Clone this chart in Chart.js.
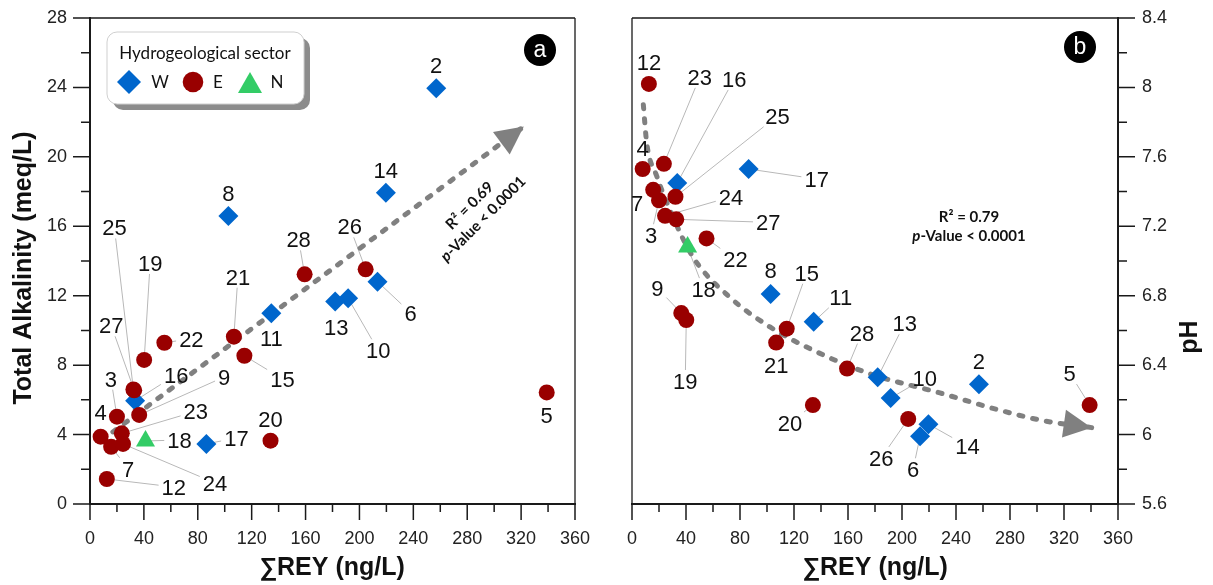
<!DOCTYPE html>
<html>
<head>
<meta charset="utf-8">
<script src="https://cdn.jsdelivr.net/npm/chart.js@4.4.1/dist/chart.umd.min.js"></script>
<style>
  html, body { margin: 0; padding: 0; background: #fff; }
  #wrap { position: relative; width: 1213px; height: 585px; }
  canvas { position: absolute; left: 0; top: 0; }
</style>
</head>
<body>
<div id="wrap">
  <canvas id="alkChart" width="1213" height="585"></canvas>
  <canvas id="phChart" width="1213" height="585"></canvas>
</div>
<script>
// samples (same order in every array)
const sampleIds = [2, 3, 4, 5, 6, 7, 8, 9, 10, 11, 12, 13, 14, 15, 16, 17, 18, 19, 20, 21, 22, 23, 24, 25, 26, 27, 28];
const sectors   = ["W","E","E","E","W","E","W","E","W","W","E","W","W","E","W","W","N","E","E","E","E","E","E","E","E","E","E"];
const reyValues = [257, 20, 7.9, 339, 213.4, 15.7, 102.7, 36.5, 191.6, 134.6, 12.5, 182, 219.6, 114.6, 33.5, 86.4, 41.2, 40.2, 134, 106.8, 55.2, 23.6, 24.5, 32.2, 204.6, 32.8, 159.3];
const alkValues = [23.95, 5.03, 3.88, 6.43, 12.81, 3.3, 16.59, 5.13, 11.85, 10.99, 1.44, 11.66, 17.93, 8.54, 5.95, 3.46, 3.63, 8.3, 3.65, 9.64, 9.29, 4.07, 3.46, 6.6, 13.52, 6.55, 13.23];
const phValues  = [6.29, 7.35, 7.53, 6.17, 5.99, 7.41, 6.81, 6.70, 6.21, 6.65, 8.02, 6.33, 6.06, 6.61, 7.45, 7.53, 7.08, 6.66, 6.17, 6.53, 7.13, 7.56, 7.26, 7.37, 6.09, 7.24, 6.38];

// trend lines
const alkTrendX = [17, 322];
const alkTrendY = [4.15, 21.75];
const phTrendX = [8.4, 10.9, 18.3, 29.4, 45.4, 72.6, 102.2, 133.1, 176.3, 228.1, 272.6, 304.7, 340.5];
const phTrendY = [7.90, 7.68, 7.49, 7.27, 7.02, 6.79, 6.62, 6.49, 6.35, 6.24, 6.14, 6.08, 6.04];

// tick labels
const reyTickLabels = ["0", "40", "80", "120", "160", "200", "240", "280", "320", "360"];
const alkTickLabels = ["0", "4", "8", "12", "16", "20", "24", "28"];
const phTickLabels  = ["5.6", "6", "6.4", "6.8", "7.2", "7.6", "8", "8.4"];

// label offsets in px from the marker (same order as sampleIds)
const alkLabelOffsets = [[0,-23],[-6,-38],[0,-25],[0,23],[33,31],[17,22],[0,-23],[85,-38],[30,52],[0,25],[67,8],[1,25],[0,-23],[38,23],[41,-26],[30,-6],[34,-1],[6,-97],[0,-22],[4,-60],[27,-4],[74,-22],[92,39],[-19,-162],[-16,-43],[-23,-65],[-6,-35]];
const phLabelOffsets  = [[0,-23],[-8,35],[0,-21],[-20,-32],[-7,33],[-16,13],[0,-24],[-24,-25],[34,-20],[27,-25],[0,-22],[27,-54],[39,22],[20,-56],[57,-104],[68,10],[16,42],[-1,61],[-23,18],[0,23],[29,21],[36,-87],[66,-19],[102,-81],[-27,39],[92,3],[15,-36]];

const COLORS = { W: "#0066cc", E: "#990000", N: "#33cc66" };
const STYLES = { W: ["rectRot", 10], E: ["circle", 8], N: ["triangle", 11] };
const TREND = "#808080";
const INK = "#1a1a1a";
const SANS = "'Liberation Sans', Arial, sans-serif";

Chart.defaults.font.family = SANS;
Chart.defaults.color = "#222";

function sectorDataset(sec, yvals) {
  const pts = [];
  sampleIds.forEach((id, i) => {
    if (sectors[i] === sec) pts.push({ x: reyValues[i], y: yvals[i] });
  });
  return {
    label: sec,
    data: pts,
    pointStyle: STYLES[sec][0],
    pointRadius: STYLES[sec][1],
    pointHoverRadius: STYLES[sec][1],
    backgroundColor: COLORS[sec],
    borderWidth: 0,
    showLine: false,
  };
}

function trendDataset(xs, ys, tension) {
  return {
    type: "line",
    data: xs.map((x, i) => ({ x, y: ys[i] })),
    borderColor: TREND,
    borderWidth: 5,
    borderDash: [4, 10],
    borderCapStyle: "round",
    pointRadius: 0,
    fill: false,
    tension,
    cubicInterpolationMode: tension ? "monotone" : "default",
  };
}

function frame(yside) {
  return {
    id: "frame" + yside,
    afterDraw(chart) {
      const { ctx, chartArea: a } = chart;
      const xs = chart.scales.x, ys = chart.scales.y;
      ctx.save();
      ctx.strokeStyle = INK;
      ctx.lineWidth = 1.3;
      ctx.beginPath();
      ctx.moveTo(a.left, a.top); ctx.lineTo(a.right, a.top);
      const far = yside === "left" ? a.right : a.left;
      ctx.moveTo(far, a.top); ctx.lineTo(far, a.bottom);
      ctx.stroke();

      ctx.lineWidth = 2;
      ctx.beginPath();
      const ax = yside === "left" ? a.left : a.right;
      ctx.moveTo(ax, a.top - 1); ctx.lineTo(ax, a.bottom + 1);
      ctx.moveTo(a.left - 1, a.bottom); ctx.lineTo(a.right + 1, a.bottom);
      ctx.stroke();

      ctx.lineWidth = 1.5;
      ctx.beginPath();
      const xv = xs.ticks.map(t => t.value);
      xv.forEach((v, i) => {
        const p = xs.getPixelForValue(v);
        ctx.moveTo(p, a.bottom); ctx.lineTo(p, a.bottom + 16);
        if (i < xv.length - 1) {
          const m = xs.getPixelForValue((v + xv[i + 1]) / 2);
          ctx.moveTo(m, a.bottom); ctx.lineTo(m, a.bottom + 8);
        }
      });
      const dir = yside === "left" ? -1 : 1;
      const yv = ys.ticks.map(t => t.value);
      yv.forEach((v, i) => {
        const p = ys.getPixelForValue(v);
        ctx.moveTo(ax, p); ctx.lineTo(ax + dir * 17, p);
        if (i < yv.length - 1) {
          const m = ys.getPixelForValue((v + yv[i + 1]) / 2);
          ctx.moveTo(ax, m); ctx.lineTo(ax + dir * 9, m);
        }
      });
      ctx.stroke();
      ctx.restore();
    },
  };
}

function pointLabels(yvals, offsets) {
  const font = "22px " + SANS;
  const pos = (chart, i) => [
    chart.scales.x.getPixelForValue(reyValues[i]),
    chart.scales.y.getPixelForValue(yvals[i]),
  ];
  return {
    id: "pointLabels",
    beforeDatasetsDraw(chart) {
      const ctx = chart.ctx;
      ctx.save();
      ctx.font = font;
      ctx.strokeStyle = "#b8b8b8";
      ctx.lineWidth = 1;
      sampleIds.forEach((id, i) => {
        const [dx, dy] = offsets[i];
        if (Math.hypot(dx, dy) < 26) return;
        const [px, py] = pos(chart, i);
        const hw = ctx.measureText(String(id)).width / 2 + 3;
        const hh = 11;
        const tx = dx ? hw / Math.abs(dx) : Infinity;
        const ty = dy ? hh / Math.abs(dy) : Infinity;
        const t = 1 - Math.min(tx, ty);
        ctx.beginPath();
        ctx.moveTo(px, py);
        ctx.lineTo(px + dx * t, py + dy * t);
        ctx.stroke();
      });
      ctx.restore();
    },
    afterDatasetsDraw(chart) {
      const ctx = chart.ctx;
      ctx.save();
      ctx.font = font;
      ctx.fillStyle = "#111";
      ctx.textAlign = "center";
      ctx.textBaseline = "alphabetic";
      sampleIds.forEach((id, i) => {
        const [px, py] = pos(chart, i);
        const [dx, dy] = offsets[i];
        ctx.fillText(String(id), px + dx, py + dy + 7.9);
      });
      ctx.restore();
    },
  };
}

function arrowHead(datasetIndex) {
  return {
    id: "arrowHead",
    afterDatasetsDraw(chart) {
      const pts = chart.getDatasetMeta(datasetIndex).data;
      const tip = pts[pts.length - 1], prev = pts[pts.length - 2];
      let ux = tip.x - prev.x, uy = tip.y - prev.y;
      const len = Math.hypot(ux, uy);
      ux /= len; uy /= len;
      const bx = tip.x - ux * 28, by = tip.y - uy * 28;
      const ctx = chart.ctx;
      ctx.save();
      ctx.fillStyle = TREND;
      ctx.beginPath();
      ctx.moveTo(tip.x, tip.y);
      ctx.lineTo(bx - uy * 14, by + ux * 14);
      ctx.lineTo(bx + uy * 14, by - ux * 14);
      ctx.closePath();
      ctx.fill();
      ctx.restore();
    },
  };
}

function badge(ctx, x, y, letter) {
  ctx.save();
  ctx.fillStyle = "#000";
  ctx.beginPath();
  ctx.arc(x, y, 16, 0, Math.PI * 2);
  ctx.fill();
  ctx.fillStyle = "#fff";
  ctx.font = "23px " + SANS;
  ctx.textAlign = "center";
  ctx.textBaseline = "middle";
  ctx.fillText(letter, x, y + 1);
  ctx.restore();
}

function statText(ctx, x, y, angle, r2) {
  ctx.save();
  ctx.translate(x, y);
  ctx.rotate(angle);
  ctx.fillStyle = "#111";
  ctx.textBaseline = "middle";
  ctx.font = "bold 15px Lato, sans-serif";
  ctx.textAlign = "center";
  ctx.fillText("R\u00b2 = " + r2, 0, -9);
  const rest = "-Value < 0.0001";
  ctx.font = "italic bold 15px Lato, sans-serif";
  const wp = ctx.measureText("p").width;
  ctx.font = "bold 15px Lato, sans-serif";
  const wr = ctx.measureText(rest).width;
  ctx.textAlign = "left";
  const x0 = -(wp + wr) / 2;
  ctx.font = "italic bold 15px Lato, sans-serif";
  ctx.fillText("p", x0, 10);
  ctx.font = "bold 15px Lato, sans-serif";
  ctx.fillText(rest, x0 + wp, 10);
  ctx.restore();
}

function title(ctx, text, x, y, rot) {
  ctx.save();
  ctx.translate(x, y);
  ctx.rotate(rot);
  ctx.fillStyle = "#111";
  ctx.font = "bold 25px " + SANS;
  ctx.textAlign = "center";
  ctx.textBaseline = "middle";
  ctx.fillText(text, 0, 0);
  ctx.restore();
}

function legendBox(ctx) {
  ctx.save();
  const x = 107, y = 32, w = 197, h = 72, r = 10;
  ctx.fillStyle = "#8c8c8c";
  ctx.beginPath();
  ctx.roundRect(x + 6, y + 6, w, h, r);
  ctx.fill();
  ctx.fillStyle = "#fff";
  ctx.strokeStyle = "#cfcfcf";
  ctx.lineWidth = 1;
  ctx.beginPath();
  ctx.roundRect(x, y, w, h, r);
  ctx.fill();
  ctx.stroke();
  ctx.fillStyle = "#111";
  ctx.font = "17px Lato, sans-serif";
  ctx.textAlign = "center";
  ctx.textBaseline = "middle";
  ctx.fillText("Hydrogeological sector", 205, 54);
  // W
  ctx.fillStyle = COLORS.W;
  ctx.beginPath();
  ctx.moveTo(129, 70); ctx.lineTo(141, 82); ctx.lineTo(129, 94); ctx.lineTo(117, 82);
  ctx.closePath(); ctx.fill();
  // E
  ctx.fillStyle = COLORS.E;
  ctx.beginPath(); ctx.arc(193, 82, 10.3, 0, Math.PI * 2); ctx.fill();
  // N
  ctx.fillStyle = COLORS.N;
  ctx.beginPath();
  ctx.moveTo(250, 72); ctx.lineTo(262, 93); ctx.lineTo(238, 93);
  ctx.closePath(); ctx.fill();
  ctx.fillStyle = "#111";
  ctx.fillText("W", 160, 83);
  ctx.fillText("E", 218, 83);
  ctx.fillText("N", 277, 83);
  ctx.restore();
}

const alkDecor = {
  id: "alkDecor",
  afterDraw(chart) {
    const ctx = chart.ctx;
    legendBox(ctx);
    badge(ctx, 540, 50, "a");
    statText(ctx, 476, 212, -Math.PI / 4, "0.69");
    title(ctx, "\u2211REY (ng/L)", 332, 568, 0);
    title(ctx, "Total Alkalinity (meq/L)", 24, 268, -Math.PI / 2);
  },
};

const phDecor = {
  id: "phDecor",
  afterDraw(chart) {
    const ctx = chart.ctx;
    badge(ctx, 1080, 47, "b");
    statText(ctx, 969, 226, 0, "0.79");
    title(ctx, "\u2211REY (ng/L)", 875, 568, 0);
    title(ctx, "pH", 1190, 337, -Math.PI / 2);
  },
};

function xScale() {
  return {
    type: "linear",
    position: "bottom",
    min: 0, max: 360,
    grid: { display: false, drawTicks: false },
    border: { display: false },
    ticks: {
      stepSize: 40, autoSkip: false, maxRotation: 0, padding: 24,
      font: { size: 18 }, color: "#222",
      callback: (v, i) => reyTickLabels[i],
    },
    afterFit: s => { s.height = 81; s.paddingLeft = 0; s.paddingRight = 0; },
  };
}

function yScale(pos, min, max, step, pad, labels, width) {
  return {
    type: "linear",
    position: pos,
    min, max,
    grid: { display: false, drawTicks: false },
    border: { display: false },
    ticks: {
      stepSize: step, autoSkip: false, padding: pad,
      font: { size: 18 }, color: "#222",
      callback: (v, i) => labels[i],
    },
    afterFit: s => { s.width = width; s.paddingTop = 0; s.paddingBottom = 0; },
  };
}

function baseOptions(padding, y) {
  return {
    responsive: false,
    devicePixelRatio: 1,
    animation: false,
    events: [],
    layout: { padding },
    plugins: { legend: { display: false }, tooltip: { enabled: false } },
    scales: { x: xScale(), y },
  };
}

new Chart(document.getElementById("alkChart"), {
  type: "scatter",
  data: {
    datasets: [
      sectorDataset("N", alkValues),
      sectorDataset("E", alkValues),
      sectorDataset("W", alkValues),
      trendDataset(alkTrendX, alkTrendY, 0),
    ],
  },
  options: baseOptions({ left: 0, right: 638, top: 18, bottom: 0 },
    yScale("left", 0, 28, 4, 23, alkTickLabels, 90)),
  plugins: [pointLabels(alkValues, alkLabelOffsets), arrowHead(3), frame("left"), alkDecor],
});

new Chart(document.getElementById("phChart"), {
  type: "scatter",
  data: {
    datasets: [
      sectorDataset("N", phValues),
      sectorDataset("E", phValues),
      sectorDataset("W", phValues),
      trendDataset(phTrendX, phTrendY, 0.4),
    ],
  },
  options: baseOptions({ left: 632, right: 0, top: 18, bottom: 0 },
    yScale("right", 5.6, 8.4, 0.4, 24, phTickLabels, 95)),
  plugins: [pointLabels(phValues, phLabelOffsets), arrowHead(3), frame("right"), phDecor],
});
</script>
</body>
</html>
